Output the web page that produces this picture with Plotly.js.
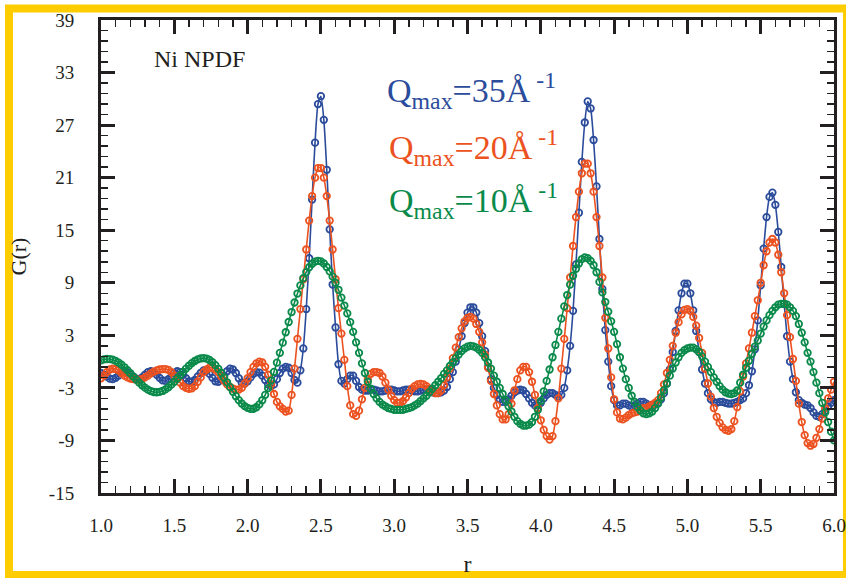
<!DOCTYPE html>
<html>
<head>
<meta charset="utf-8">
<script src="https://cdn.plot.ly/plotly-3.0.1.min.js"></script>
<style>
  html, body { margin: 0; padding: 0; background: #ffffff; }
  #chart { width: 846px; height: 578px; }
</style>
</head>
<body>
<div id="chart"></div>
<script>
// r grid: 1.00 to 6.00 in steps of 0.02 (one value per row entry below)
const R_START = 1.0;
const R_STEP = 0.02;

// G(r), Qmax = 35 Å^-1 (blue)
const G_Q35 = [
  -1.3, -1.5, -1.7, -1.95, -2.0, -1.85, -1.6, -1.25, -1.1, -1.2,
  -1.45, -1.75, -1.95, -2.0, -1.8, -1.5, -1.2, -1.1, -1.2, -1.5,
  -1.85, -2.15, -2.2, -2.0, -1.7, -1.3, -1.1, -1.2, -1.5, -1.9,
  -2.25, -2.3, -2.1, -1.7, -1.3, -1.0, -1.05, -1.4, -1.85, -2.25,
  -2.3, -2.05, -1.6, -1.1, -0.8, -0.9, -1.3, -1.9, -2.4, -2.5,
  -2.25, -1.8, -1.4, -1.2, -1.25, -1.6, -2.1, -2.6, -2.8, -2.6,
  -2.0, -1.3, -0.8, -0.6, -0.7, -1.3, -2.1, -2.4, -1.0, 1.5,
  6.0, 11.8, 18.5, 25.0, 29.4, 30.3, 27.6, 21.9, 15.1, 8.8,
  3.9, -0.3, -2.2, -2.5, -2.0, -1.6, -1.6, -2.2, -2.9, -3.2,
  -3.3, -3.3, -3.2, -3.2, -3.3, -3.4, -3.4, -3.3, -3.2, -3.2,
  -3.3, -3.4, -3.4, -3.3, -3.2, -3.2, -3.3, -3.4, -3.4, -3.3,
  -3.2, -3.2, -3.3, -3.5, -3.6, -3.6, -3.5, -3.3, -2.9, -2.0,
  -1.2, 0.0, 1.4, 2.9, 4.4, 5.6, 6.2, 6.2, 5.6, 4.4,
  2.9, 1.2, -0.6, -2.0, -3.0, -3.8, -4.3, -4.6, -4.6, -4.3,
  -3.9, -3.5, -3.3, -3.2, -3.3, -3.7, -4.2, -4.7, -5.0, -5.0,
  -4.7, -4.2, -3.8, -3.6, -3.6, -3.8, -4.0, -3.8, -3.0, -1.0,
  1.8, 5.8, 11.1, 17.0, 22.8, 27.3, 29.7, 28.9, 25.3, 20.0,
  14.0, 8.3, 3.6, 0.0, -2.8, -4.4, -5.0, -5.0, -4.8, -4.8,
  -5.0, -5.1, -5.0, -4.8, -4.6, -4.6, -4.8, -5.0, -5.0, -4.9,
  -4.7, -4.3, -3.6, -2.5, -0.9, 1.1, 3.5, 5.85, 7.8, 8.9,
  8.9, 7.8, 5.85, 3.5, 1.1, -0.9, -2.5, -3.6, -4.3, -4.6,
  -4.7, -4.6, -4.6, -4.7, -4.8, -4.8, -4.7, -4.6, -4.4, -4.2,
  -3.6, -2.7, -1.1, 1.4, 4.7, 8.7, 12.9, 16.5, 18.8, 19.3,
  17.9, 14.8, 10.8, 6.6, 2.9, 0.0, -2.0, -3.5, -4.4, -4.7,
  -4.9, -5.0, -5.3, -5.8, -6.2, -6.3, -6.0, -5.6, -5.1, -4.7,
  -4.4
];

// G(r), Qmax = 20 Å^-1 (orange)
const G_Q20 = [
  -1.9, -1.6, -1.2, -0.9, -0.8, -0.85, -1.0, -1.3, -1.6, -1.8,
  -1.95, -2.0, -2.05, -2.05, -2.0, -1.8, -1.6, -1.35, -1.15, -1.0,
  -0.9, -0.85, -0.85, -0.95, -1.2, -1.6, -2.0, -2.4, -2.8, -3.0,
  -3.1, -3.05, -2.8, -2.3, -1.8, -1.2, -0.9, -0.7, -0.7, -0.9,
  -1.2, -1.7, -2.2, -2.6, -2.9, -3.1, -3.2, -3.2, -3.0, -2.5,
  -1.9, -1.2, -0.6, -0.2, 0.0, -0.1, -0.6, -1.5, -2.6, -3.7,
  -4.6, -5.1, -5.4, -5.7, -5.6, -3.8, -0.8, 2.6, 6.0, 9.4,
  12.8, 16.1, 18.9, 21.0, 22.1, 22.1, 21.0, 18.9, 16.1, 12.8,
  9.4, 6.1, 3.2, 0.2, -2.8, -5.0, -6.0, -6.2, -5.6, -4.3,
  -3.0, -2.0, -1.4, -1.2, -1.2, -1.3, -1.7, -2.4, -3.2, -3.9,
  -4.4, -4.7, -4.7, -4.5, -4.1, -3.6, -3.1, -2.8, -2.6, -2.55,
  -2.6, -2.8, -3.1, -3.4, -3.6, -3.6, -3.3, -2.7, -1.8, -0.8,
  0.4, 1.6, 2.8, 3.8, 4.6, 5.0, 5.1, 4.9, 4.3, 3.4,
  2.2, 0.8, -0.7, -2.2, -3.7, -5.0, -6.0, -6.6, -6.6, -6.0,
  -4.8, -3.3, -2.0, -1.0, -0.6, -0.6, -1.2, -2.3, -3.8, -5.3,
  -6.7, -7.8, -8.5, -8.9, -8.5, -6.8, -4.2, -0.8, 2.6, 6.1,
  9.6, 13.2, 16.5, 19.4, 21.5, 22.6, 22.6, 21.5, 19.4, 16.5,
  13.2, 9.6, 5.0, 1.5, -1.8, -4.3, -5.8, -6.5, -6.6, -6.4,
  -6.1, -5.9, -5.8, -5.7, -5.5, -5.3, -5.3, -5.1, -4.9, -4.7,
  -4.4, -3.6, -2.6, -1.3, 0.2, 1.8, 3.3, 4.5, 5.4, 5.9,
  6.0, 5.8, 5.1, 4.1, 2.7, 1.0, -0.8, -2.5, -4.0, -5.3,
  -6.3, -7.0, -7.5, -7.8, -7.9, -7.7, -6.8, -5.2, -3.4, -1.7,
  -0.2, 1.5, 3.3, 5.2, 7.0, 9.0, 11.0, 12.6, 13.6, 14.0,
  13.6, 12.2, 10.2, 7.8, 5.3, 2.8, 0.3, -2.2, -4.8, -6.9,
  -8.4, -9.3, -9.6, -9.4, -8.7, -7.7, -6.5, -5.3, -4.2, -3.2,
  -2.3
];

// G(r), Qmax = 10 Å^-1 (green)
const G_Q10 = [
  0.15, 0.25, 0.3, 0.29, 0.22, 0.09, -0.11, -0.36, -0.65, -0.98,
  -1.33, -1.69, -2.05, -2.39, -2.70, -2.97, -3.20, -3.37, -3.47, -3.5,
  -3.46, -3.35, -3.17, -2.93, -2.63, -2.30, -1.93, -1.55, -1.17, -0.80,
  -0.47, -0.17, 0.07, 0.25, 0.36, 0.4, 0.35, 0.19, -0.06, -0.40,
  -0.82, -1.30, -1.82, -2.36, -2.91, -3.45, -3.95, -4.40, -4.78, -5.08,
  -5.28, -5.39, -5.38, -5.21, -4.89, -4.41, -3.79, -3.03, -2.16, -1.18,
  -0.12, 1.00, 2.16, 3.35, 4.52, 5.66, 6.75, 7.77, 8.70, 9.52,
  10.22, 10.77, 11.17, 11.42, 11.5, 11.45, 11.2, 10.8, 10.3, 9.7,
  9.0, 8.2, 7.3, 6.4, 5.5, 4.5, 3.4, 2.2, 1.0, -0.2,
  -1.3, -2.3, -3.1, -3.7, -4.2, -4.6, -4.9, -5.1, -5.3, -5.4,
  -5.5, -5.5, -5.5, -5.5, -5.4, -5.3, -5.2, -5.0, -4.8, -4.5,
  -4.2, -3.9, -3.5, -3.1, -2.7, -2.3, -1.9, -1.4, -1.0, -0.5,
  -0.1, 0.4, 0.8, 1.2, 1.5, 1.7, 1.8, 1.75, 1.6, 1.35,
  1.0, 0.5, -0.1, -0.8, -1.6, -2.3, -3.0, -3.7, -4.4, -5.1,
  -5.7, -6.3, -6.8, -7.1, -7.3, -7.3, -7.2, -6.9, -6.3, -5.5,
  -4.5, -3.4, -2.2, -0.9, 0.5, 1.9, 3.4, 4.9, 6.3, 7.6,
  8.8, 9.8, 10.6, 11.2, 11.7, 11.9, 11.8, 11.5, 11.0, 10.2,
  9.1, 7.9, 6.8, 5.7, 4.6, 3.4, 2.0, 0.5, -0.8, -2.0,
  -3.0, -3.9, -4.6, -5.2, -5.6, -5.9, -6.0, -5.9, -5.7, -5.3,
  -4.8, -4.1, -3.3, -2.5, -1.6, -0.8, -0.1, 0.5, 1.0, 1.3,
  1.5, 1.6, 1.6, 1.4, 1.1, 0.6, 0.0, -0.6, -1.2, -1.8,
  -2.3, -2.8, -3.2, -3.5, -3.65, -3.7, -3.6, -3.3, -2.4, -1.5,
  -0.7, 0.1, 0.9, 1.7, 2.4, 3.2, 4.0, 4.7, 5.3, 5.8,
  6.2, 6.5, 6.6, 6.6, 6.5, 6.2, 5.8, 5.2, 4.3, 3.3,
  2.2, 1.0, 0.0, -1.2, -2.4, -3.6, -4.7, -5.8, -6.9, -8.0,
  -9.0
];

const SERIES_LABELS = ["Q<sub>max</sub>=35Å<sup> -1</sup>", "Q<sub>max</sub>=20Å<sup> -1</sup>", "Q<sub>max</sub>=10Å<sup> -1</sup>"];
const X_TICKS = [1.0, 1.5, 2.0, 2.5, 3.0, 3.5, 4.0, 4.5, 5.0, 5.5, 6.0];
const Y_TICKS = [-15, -9, -3, 3, 9, 15, 21, 27, 33, 39];

const r = G_Q35.map((_, i) => +(R_START + R_STEP * i).toFixed(2));

const BLUE = '#2b4b9b', ORANGE = '#ec5220', GREEN = '#0a8a4a', INK = '#231f20';
const SERIF = 'Liberation Serif, Times New Roman, serif';

function trace(y, color) {
  return {
    x: r, y: y, type: 'scatter', mode: 'lines+markers',
    line: { color: color, width: 1.6, shape: 'spline', smoothing: 0.6 },
    marker: { symbol: 'circle-open', size: 6.5, color: color, line: { color: color, width: 1.8 } },
    hoverinfo: 'skip', showlegend: false
  };
}

const data = [trace(G_Q35, BLUE), trace(G_Q20, ORANGE), trace(G_Q10, GREEN)];

const axisCommon = {
  showgrid: false, zeroline: false,
  showline: true, linecolor: INK, linewidth: 3,
  mirror: 'allticks', ticks: 'inside', ticklen: 14, tickwidth: 3, tickcolor: INK,
  tickfont: { family: SERIF, size: 19, color: INK },
  ticklabeloverflow: 'allow'
};

const layout = {
  width: 846, height: 578,
  margin: { l: 101, r: 12, t: 20, b: 85 },
  paper_bgcolor: '#ffffff', plot_bgcolor: '#ffffff',
  xaxis: Object.assign({}, axisCommon, {
    range: [1.0, 6.0], tickvals: X_TICKS, ticktext: X_TICKS.map(v => v.toFixed(1)),
    minor: { dtick: 0.1, tick0: 1.0, ticks: 'inside', ticklen: 7, tickwidth: 1.5, tickcolor: INK },
    ticklabelstandoff: 13,
    ticklabelshift: -4.5,
    title: { text: 'r', font: { family: SERIF, size: 24, color: INK }, standoff: 21 }
  }),
  yaxis: Object.assign({}, axisCommon, {
    range: [-15, 39], tickvals: Y_TICKS, ticktext: Y_TICKS.map(String),
    minor: { dtick: 1.2, tick0: -15, ticks: 'inside', ticklen: 7, tickwidth: 1.5, tickcolor: INK },
    ticklabelstandoff: 20,
    title: { text: 'G(r)', font: { family: SERIF, size: 22, color: INK }, standoff: 17 }
  }),
  annotations: [
    { xref: 'x', yref: 'y', x: 1.35, y: 34.6, xanchor: 'left', yanchor: 'middle', showarrow: false,
      text: 'Ni NPDF', font: { family: SERIF, size: 24, color: INK } },
    { xref: 'x', yref: 'y', x: 2.94, y: 31.0, xanchor: 'left', yanchor: 'middle', showarrow: false,
      text: SERIES_LABELS[0], font: { family: SERIF, size: 34, color: BLUE } },
    { xref: 'x', yref: 'y', x: 2.95, y: 24.4, xanchor: 'left', yanchor: 'middle', showarrow: false,
      text: SERIES_LABELS[1], font: { family: SERIF, size: 34, color: ORANGE } },
    { xref: 'x', yref: 'y', x: 2.95, y: 18.4, xanchor: 'left', yanchor: 'middle', showarrow: false,
      text: SERIES_LABELS[2], font: { family: SERIF, size: 34, color: GREEN } }
  ],
  shapes: [
    { type: 'rect', xref: 'paper', yref: 'paper', layer: 'below',
      x0: -0.1255, x1: 1.0177, y0: -0.1734, y1: 1.0243,
      line: { color: '#ffcc00', width: 8 }, fillcolor: 'rgba(0,0,0,0)' }
  ]
};

Plotly.newPlot('chart', data, layout, { staticPlot: true, displayModeBar: false });
</script>
</body>
</html>
